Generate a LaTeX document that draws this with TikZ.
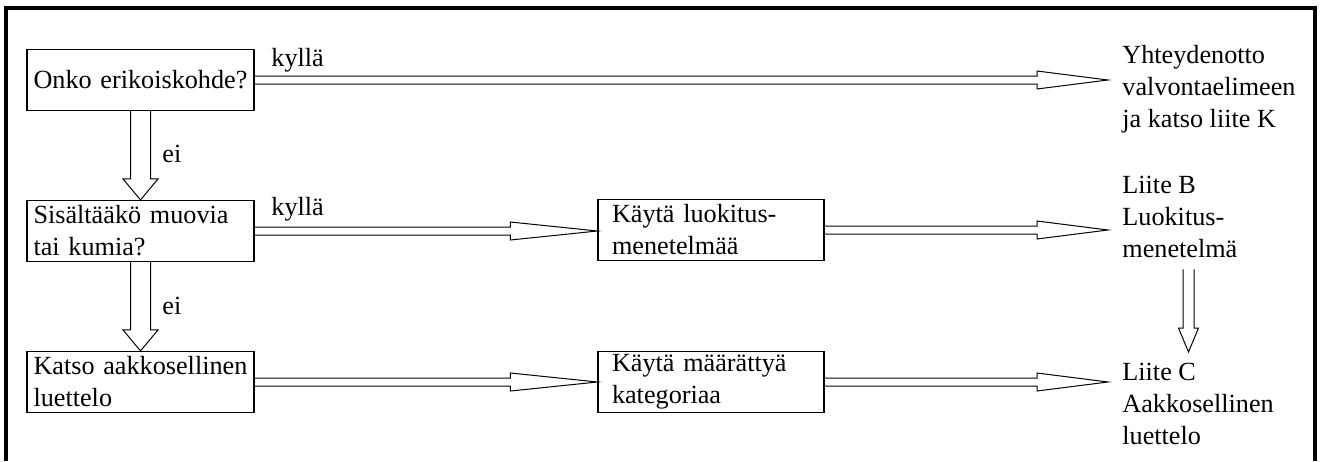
\documentclass[tikz,border=0pt]{standalone}
\usepackage{fontspec}
\setmainfont{Liberation Serif}
\usetikzlibrary{calc}

\tikzset{
	frameline/.style={line width=1.6pt},
	arrowline/.style={line width=0.5pt},
	leftbox/.style={draw, line width=0.6pt, minimum height=30.5pt, align=left, text width=107pt, inner xsep=3.25pt, inner ysep=1pt},
	midbox/.style={draw, line width=0.6pt, minimum height=30.5pt, align=left, text width=99pt, inner xsep=7pt, inner ysep=1pt},
	sidetext/.style={anchor=north west, align=left, inner xsep=7pt, inner ysep=5.5pt},
	arrowtag/.style={anchor=base west, inner sep=0pt},
	harrow/.style n args={3}{to path={let \p1=(\tikztostart), \p2=(\tikztotarget) in
		(\x1,{\y1+#3}) -- ({\x2-#1},{\y1+#3}) -- ({\x2-#1},{\y1+#2}) -- (\x2,\y1)
		-- ({\x2-#1},{\y1-#2}) -- ({\x2-#1},{\y1-#3}) -- (\x1,{\y1-#3})}},
	varrow/.style n args={3}{to path={let \p1=(\tikztostart), \p2=(\tikztotarget) in
		({\x1-#3},\y1) -- ({\x1-#3},{\y2+#1}) -- ({\x1-#2},{\y2+#1}) -- (\x1,\y2)
		-- ({\x1+#2},{\y2+#1}) -- ({\x1+#3},{\y2+#1}) -- ({\x1+#3},\y1)}}
}

\begin{document}
\begin{tikzpicture}[x=0.5pt, y=-0.5pt, font=\fontsize{13.1pt}{16pt}\selectfont]
	\useasboundingbox (0,0) rectangle (1322,461);
	\draw[frameline] (6,461) -- (6,8) -- (1315,8) -- (1315,461);

	\node[leftbox] (onko)     at (140.5,80)  {Onko erikoiskohde?};
	\node[leftbox] (muovi)    at (140.5,231) {Sisältääkö muovia\\tai kumia?};
	\node[leftbox] (katso)    at (140.5,382) {Katso aakkosellinen\\luettelo};
	\node[midbox]  (luokitus) at (711,230)   {Käytä luokitus-\\menetelmää};
	\node[midbox]  (kategoria) at (711,382)  {Käytä määrättyä\\kategoriaa};

	\node[sidetext] (liitek) at (1108,34)  {Yhteydenotto\\valvontaelimeen\\ja katso liite K};
	\node[sidetext] (liiteb) at (1108,165) {Liite B\\Luokitus-\\menetelmä};
	\node[sidetext] (liitec) at (1108,352) {Liite C\\Aakkosellinen\\luettelo};

	\node[arrowtag] (kylla1) at (271,66)  {kyllä};
	\node[arrowtag] (kylla2) at (271,215) {kyllä};
	\node[arrowtag] (ei1)    at (162,162) {ei};
	\node[arrowtag] (ei2)    at (162,314) {ei};

	\draw[arrowline] (onko.east) to[harrow={35.5pt}{4.5pt}{2pt}] (liitek.west);
	\draw[arrowline] (muovi.east) to[harrow={43.5pt}{4.5pt}{2pt}] (luokitus.west);
	\draw[arrowline] (katso.east) to[harrow={43.5pt}{4.5pt}{2pt}] (kategoria.west);
	\draw[arrowline] (luokitus.east) to[harrow={35.5pt}{4.5pt}{2pt}] (liiteb.west);
	\draw[arrowline] (kategoria.east) to[harrow={35.5pt}{4.5pt}{2pt}] (liitec.west);

	\draw[arrowline] (onko.south) to[varrow={10.5pt}{8.75pt}{5pt}] (muovi.north);
	\draw[arrowline] (muovi.south) to[varrow={10.5pt}{8.75pt}{5pt}] (katso.north);
	\draw[arrowline] ([xshift=40.25pt]liiteb.south west) to[varrow={12pt}{5pt}{2.75pt}] (liitec.north);
\end{tikzpicture}
\end{document}
